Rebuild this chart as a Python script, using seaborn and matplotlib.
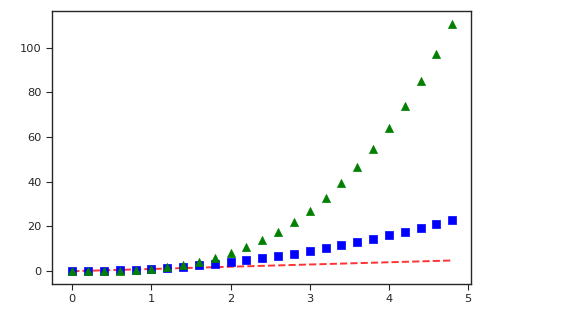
import matplotlib
matplotlib.use("Agg")
import matplotlib.pyplot as plt
import seaborn as sns

t = [0.0, 0.2, 0.4, 0.6, 0.8, 1.0, 1.2, 1.4, 1.6, 1.8, 2.0, 2.2, 2.4,
     2.6, 2.8, 3.0, 3.2, 3.4, 3.6, 3.8, 4.0, 4.2, 4.4, 4.6, 4.8]
squares = [0.0, 0.04, 0.16, 0.36, 0.64, 1.0, 1.44, 1.96, 2.56, 3.24, 4.0, 4.84,
           5.76, 6.76, 7.84, 9.0, 10.24, 11.56, 12.96, 14.44, 16.0, 17.64,
           19.36, 21.16, 23.04]
cubes = [0.0, 0.008, 0.064, 0.216, 0.512, 1.0, 1.728, 2.744, 4.096, 5.832, 8.0,
         10.648, 13.824, 17.576, 21.952, 27.0, 32.768, 39.304, 46.656, 54.872,
         64.0, 74.088, 85.184, 97.336, 110.592]

sns.set_style("ticks")
plt.rcParams['font.family'] = ['DejaVu Sans']

fig = plt.figure(figsize=(5.67, 3.18), dpi=100)
ax = fig.add_axes([52 / 567, 1 - 283.5 / 318, (470.5 - 52) / 567, (283.5 - 11) / 318])

sns.lineplot(x=t, y=t, ax=ax, color='#ff3333', linestyle='--', linewidth=1.4)
sns.scatterplot(x=t, y=squares, ax=ax, marker='s', color='b', s=32,
                edgecolor='b', linewidth=0.5, zorder=3)
sns.scatterplot(x=t, y=cubes, ax=ax, marker='^', color='g', s=34,
                edgecolor='g', linewidth=0.5, zorder=3)

ax.set_xlim(-0.255, 5.03)
ax.set_ylim(-5.5, 116.4)
ax.set_xticks([0, 1, 2, 3, 4, 5])
ax.set_yticks([0, 20, 40, 60, 80, 100])
ax.tick_params(labelsize=8.2, length=4, width=0.8, colors='#262626')
for s in ax.spines.values():
    s.set_linewidth(1.0)
    s.set_color('#262626')

fig.savefig("out.png", dpi=100)
